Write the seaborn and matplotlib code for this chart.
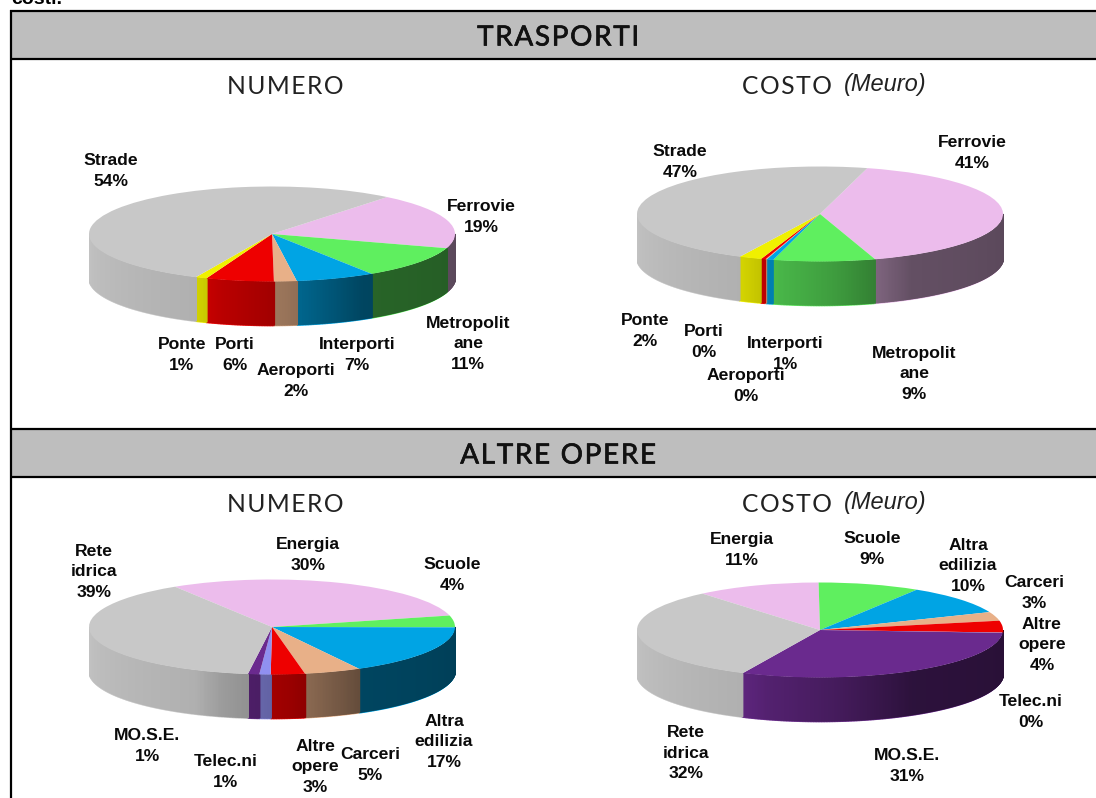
import numpy as np
import matplotlib
matplotlib.use('Agg')
import matplotlib.pyplot as plt
import matplotlib.patheffects as pe
from matplotlib.colors import to_rgb
import seaborn as sns

# Values (percent, a bit finer than the printed labels where slices are tiny)
trasp_names = ['Ferrovie', 'Metropolit\nane', 'Interporti', 'Aeroporti', 'Porti', 'Ponte', 'Strade']
trasp_numero = [19, 11, 7, 2, 6, 1, 54]
trasp_costo = [41, 9, 0.6, 0.1, 0.4, 2, 47]

altre_names = ['Energia', 'Scuole', 'Altra\nedilizia', 'Carceri', 'Altre\nopere', 'Telec.ni', 'MO.S.E.', 'Rete\nidrica']
altre_numero = [30, 4, 17, 5, 3, 1, 1, 39]
altre_costo = [11, 9, 10, 3, 4, 0.1, 31, 32]

trasp_colors = ['#ECBCEC', '#5FEF5F', '#00A4E4', '#E8B088', '#EE0000', '#F0F000', '#C8C8C8']
altre_colors = ['#ECBCEC', '#5FEF5F', '#00A4E4', '#E8B088', '#EE0000', '#9090F0', '#6A2A8E', '#C8C8C8']

W, H = 1096, 798
RX, RY, DEPTH = 183, 47.5, 43

sns.set_theme(style='white')
plt.rcParams['font.family'] = ['Liberation Sans', 'DejaVu Sans']

fig = plt.figure(figsize=(W / 100, H / 100), dpi=100)
fig.patch.set_facecolor('white')

canvas = fig.add_axes([0, 0, 1, 1], zorder=5)
canvas.set_xlim(0, W)
canvas.set_ylim(H, 0)
canvas.set_axis_off()


def side_shade(color, angle):
    # side of the disc gets darker towards the right
    factor = np.interp(angle % 360, [90, 150, 175, 196, 205, 270], [.38, .42, .65, .78, .88, .97])
    return tuple(c * factor for c in to_rgb(color))


def pie3d(values, colors, cx, cy, start):
    ax = fig.add_axes([(cx - RX) / W, 1 - (cy + RY + DEPTH + 2) / H,
                       2 * RX / W, (2 * RY + DEPTH + 2) / H], zorder=2)
    palette = sns.color_palette(colors)
    ax.pie(values, colors=palette, startangle=90 - start, counterclock=False,
           radius=1, wedgeprops={'linewidth': 0})
    ax.set_aspect('auto')
    d = DEPTH / RY
    ax.set_xlim(-1, 1)
    ax.set_ylim(-1 - d - 2 / RY, 1)
    ax.set_axis_off()

    # extruded side, slice by slice
    edges = start + np.cumsum([0] + list(values)) * 3.6
    for a0, a1, col in zip(edges[:-1], edges[1:], palette):
        ang = np.arange(a0, a1 + .5, .5)
        ang[-1] = a1
        for p, q in zip(ang[:-1], ang[1:]):
            if not (90 <= p % 360 <= 270 and 90 <= q % 360 <= 270):
                continue
            xs = np.sin(np.radians([p, q]))
            ys = np.cos(np.radians([p, q]))
            ax.plot(xs, ys - d - 1 / RY, color=col, lw=1.2, alpha=.8, zorder=.4)
            ax.fill_between(xs, ys, ys - d, color=side_shade(col, p), linewidth=1,
                            antialiased=False, zorder=.5)
    return ax


def labels(names, values, positions):
    for name, val, (x, y) in zip(names, values, positions):
        canvas.text(x, y, f'{name}\n{val:.0f}%', ha='center', va='center', fontsize=12.6,
                    fontweight='bold', linespacing=1.48, color='#0a0a0a')


def spaced(text, gap='\u200a'):
    return gap.join(text)


pie3d(trasp_numero, trasp_colors, 272, 234, 39)
pie3d(trasp_costo, trasp_colors, 820, 214, 15)
pie3d(altre_numero, altre_colors, 272, 627, 328)
pie3d(altre_costo, altre_colors, 820, 630, 320)

labels(trasp_names, trasp_numero,
       [(481, 217), (468, 344), (357, 355), (296, 381), (235, 355), (182, 355), (111, 171)])
labels(trasp_names, trasp_costo,
       [(972, 153), (914, 374), (785, 354), (746, 386), (704, 342), (645, 331), (680, 162)])
labels(altre_names, altre_numero,
       [(308, 555), (452, 575), (444, 742), (370, 765), (315, 767), (226, 772), (147, 746), (94, 572)])
labels(altre_names, altre_costo,
       [(742, 550), (872, 549), (968, 566), (1034, 593), (1042, 645), (1031, 712), (907, 766), (686, 753)])

# table frame and header bands
for top, bottom, title in [(11, 59, 'TRASPORTI'), (429, 477, 'ALTRE OPERE')]:
    canvas.fill_between([10.5, W], top, bottom, color='#BEBEBE', lw=0, zorder=0)
    canvas.hlines([top, bottom], 10, W, color='black', lw=1.6)
    canvas.text(558, (top + bottom) / 2 + 2.5, spaced(title), ha='center', va='center',
                fontsize=20, family=['Lato', 'DejaVu Sans'], color='#111111',
                path_effects=[pe.withStroke(linewidth=.5, foreground='#111111')])
canvas.vlines(10.5, 10, H, color='black', lw=1.6)

for y in [86, 504]:
    canvas.text(285, y, spaced('NUMERO'), ha='center', va='center', fontsize=17.7,
                family=['Lato', 'DejaVu Sans'], color='#222222')
    canvas.text(787, y, spaced('COSTO'), ha='center', va='center', fontsize=17.7,
                family=['Lato', 'DejaVu Sans'], color='#222222')
    canvas.text(885, y - 2, '(Meuro)', ha='center', va='center', fontsize=17, style='italic',
                color='#222222')

canvas.text(11, 3.5, 'costi.', ha='left', va='baseline', fontsize=14, fontweight='bold', color='black')

fig.savefig('out.png', dpi=100)
